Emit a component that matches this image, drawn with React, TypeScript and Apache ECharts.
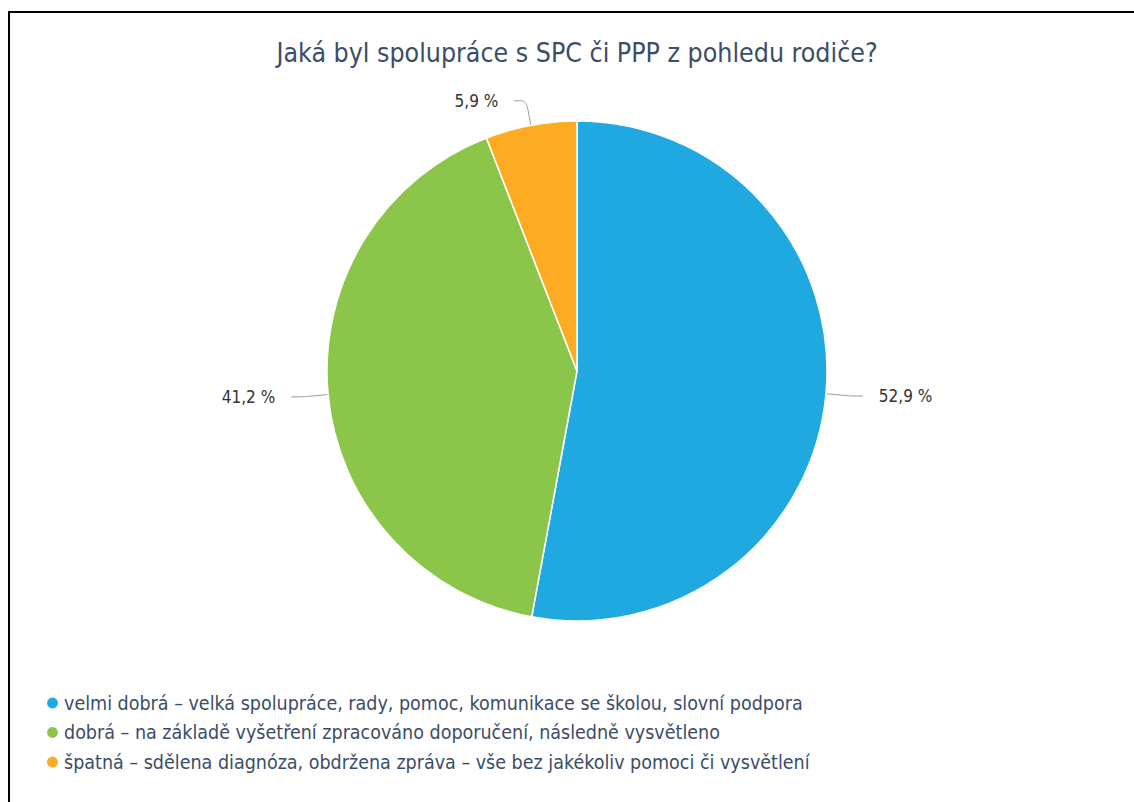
import React, { useEffect, useRef } from "react";
import * as echarts from "echarts";

const titleText = "Jaká byl spolupráce s SPC či PPP z pohledu rodiče?";
const categories = [
  "velmi dobrá – velká spolupráce, rady, pomoc, komunikace se školou, slovní podpora",
  "dobrá – na základě vyšetření zpracováno doporučení, následně vysvětleno",
  "špatná – sdělena diagnóza, obdržena zpráva – vše bez jakékoliv pomoci či vysvětlení",
];
const values = [52.9, 41.2, 5.9];
const colors = ["#20a9e0", "#8bc54a", "#fcab23"];

const FONT = "'DejaVu Sans Condensed', 'DejaVu Sans', sans-serif";

export default function App() {
  const ref = useRef<HTMLDivElement>(null);
  useEffect(() => {
    if (!ref.current) return;
    const chart = echarts.init(ref.current, undefined, { renderer: "svg" });
    chart.setOption({
      animation: false,
      color: colors,
      title: {
        text: titleText,
        left: "center",
        top: 34,
        textStyle: {
          fontFamily: FONT,
          fontSize: 26.5,
          fontWeight: "normal",
          color: "#3b4d68",
        },
      },
      legend: {
        orient: "vertical",
        left: 40,
        top: 688,
        itemGap: 9.5,
        icon: "circle",
        itemWidth: 13,
        itemHeight: 13,
        textStyle: {
          fontFamily: FONT,
          fontSize: 19.5,
          color: "#3b4d68",
        },
        data: categories,
      },
      series: [
        {
          type: "pie",
          center: [577, 371],
          radius: [0, 250],
          startAngle: 90,
          clockwise: true,
          itemStyle: { borderColor: "#ffffff", borderWidth: 1.5 },
          label: {
            show: true,
            position: "outside",
            formatter: (p: any) => String(p.value).replace(".", ",") + " %",
            fontFamily: FONT,
            fontSize: 17,
            color: "#333333",
            distanceToLabelLine: 16,
          },
          labelLine: {
            show: true,
            length: 25,
            length2: 12,
            smooth: 0.3,
            lineStyle: { color: "#999999", width: 1 },
          },
          data: categories.map((c, i) => ({ name: c, value: values[i] })),
        },
      ],
    });
    return () => chart.dispose();
  }, []);
  return (
    <div style={{ position: "fixed", left: 0, top: 0, width: 1134, height: 802, overflow: "hidden", background: "#fff" }}>
      <div
        style={{
          position: "absolute",
          left: 8,
          top: 11,
          width: 1200,
          height: 900,
          borderTop: "2px solid #000",
          borderLeft: "2px solid #000",
        }}
      />
      <div ref={ref} style={{ position: "absolute", left: 0, top: 0, width: 1154, height: 802 }} />
    </div>
  );
}
